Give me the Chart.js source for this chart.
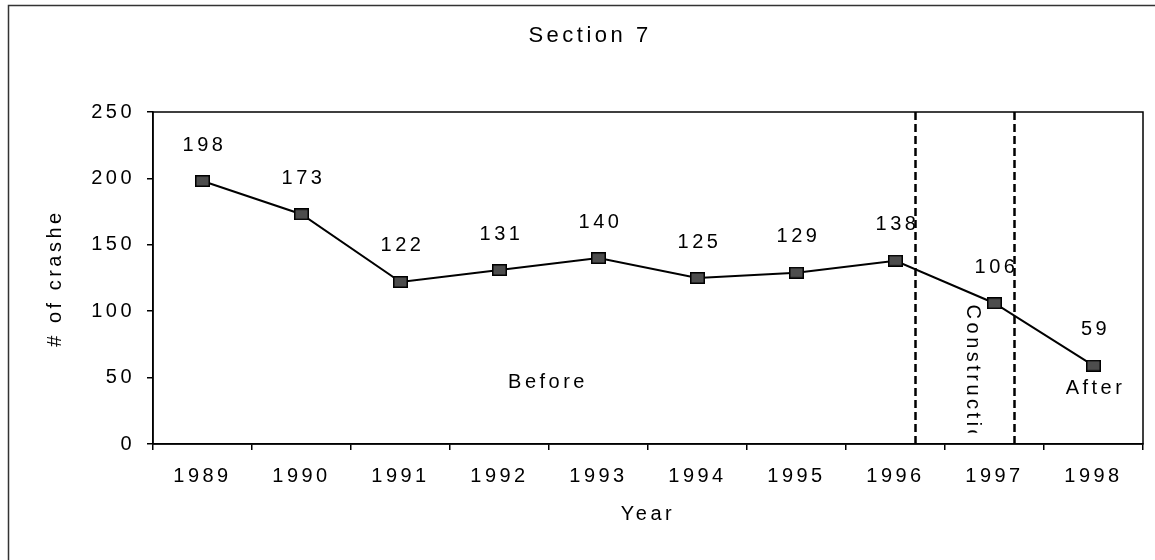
<!DOCTYPE html>
<html>
<head>
<meta charset="utf-8">
<script src="https://cdn.jsdelivr.net/npm/chart.js@4.4.1/dist/chart.umd.min.js"></script>
<style>
  html, body { margin: 0; padding: 0; background: #fff; }
  canvas { display: block; }
</style>
</head>
<body>
<canvas id="crashChart" width="1155" height="560"></canvas>
<script>
// Data
const years = ['1989', '1990', '1991', '1992', '1993', '1994', '1995', '1996', '1997', '1998'];
const crashes = [198, 173, 122, 131, 140, 125, 129, 138, 106, 59];
const yTicks = [0, 50, 100, 150, 200, 250];
// construction period, in category index units (start / end)
const constructionSpan = [7.2, 8.2];
const periodNames = ['Before', 'Construction', 'After'];

const FONT = "'Liberation Sans', Arial, sans-serif";
const SPACING = '3.5px';

// square marker, slightly wider than tall like the scan
const marker = document.createElement('canvas');
marker.width = 15;
marker.height = 12;
const mctx = marker.getContext('2d');
mctx.fillStyle = '#4d4d4d';
mctx.fillRect(0, 0, 15, 12);
mctx.strokeStyle = '#000';
mctx.lineWidth = 1.5;
mctx.strokeRect(0.75, 0.75, 13.5, 10.5);

// helper: pixel for a fractional category index
function xAt(scale, idx) {
  const i = Math.floor(idx);
  const a = scale.getPixelForValue(i);
  const b = scale.getPixelForValue(i + 1);
  return a + (idx - i) * (b - a);
}

const spacingPlugin = {
  id: 'spacing',
  beforeUpdate(chart) { chart.ctx.letterSpacing = SPACING; },
  beforeDraw(chart) { chart.ctx.letterSpacing = SPACING; }
};

const decorPlugin = {
  id: 'decor',
  beforeDatasetsDraw(chart) {
    const { ctx, chartArea: a } = chart;
    const x = chart.scales.x;
    ctx.save();
    // outer frame (left and top edges visible in the scan)
    ctx.strokeStyle = '#333';
    ctx.lineWidth = 1.5;
    ctx.beginPath();
    ctx.moveTo(8.5, 560);
    ctx.lineTo(8.5, 5.5);
    ctx.lineTo(1155, 5.5);
    ctx.stroke();

    // plot box
    ctx.strokeStyle = '#000';
    ctx.lineWidth = 1.5;
    ctx.strokeRect(a.left, a.top, a.right - a.left, a.bottom - a.top);

    // construction dividers
    ctx.lineWidth = 2.5;
    ctx.setLineDash([8, 4]);
    constructionSpan.forEach(v => {
      const px = Math.round(xAt(x, v)) + 0.5;
      ctx.beginPath();
      ctx.moveTo(px, a.top);
      ctx.lineTo(px, a.bottom);
      ctx.stroke();
    });
    ctx.restore();

    // title
    ctx.save();
    ctx.letterSpacing = SPACING;
    ctx.fillStyle = '#000';
    ctx.font = '22px ' + FONT;
    ctx.textAlign = 'center';
    ctx.textBaseline = 'middle';
    ctx.fillText('Section 7', 590, 36);
    ctx.restore();
  },
  afterDatasetsDraw(chart) {
    const { ctx, chartArea: a } = chart;
    const x = chart.scales.x;
    const y = chart.scales.y;
    const meta = chart.getDatasetMeta(0);
    ctx.save();
    ctx.letterSpacing = SPACING;
    ctx.fillStyle = '#000';
    ctx.font = '20px ' + FONT;
    ctx.textAlign = 'center';
    ctx.textBaseline = 'middle';

    // value labels above the points
    meta.data.forEach((pt, i) => {
      ctx.fillText(String(crashes[i]), pt.x + 2, pt.y - 36);
    });

    // period labels
    ctx.fillText(periodNames[0], xAt(x, 3.47) + 2, y.getPixelForValue(46));
    ctx.fillText(periodNames[2], xAt(x, 9.0) + 2, y.getPixelForValue(42));

    // vertical label, clipped like the small text box in the original
    ctx.save();
    ctx.beginPath();
    ctx.rect(a.left, a.top, a.right - a.left, y.getPixelForValue(8.5) - a.top);
    ctx.clip();
    ctx.translate(xAt(x, 7.78), y.getPixelForValue(105));
    ctx.rotate(Math.PI / 2);
    ctx.textAlign = 'left';
    ctx.fillText(periodNames[1], 0, 0);
    ctx.restore();

    ctx.restore();
  }
};

Chart.defaults.font.family = FONT;
Chart.defaults.font.size = 20;
Chart.defaults.color = '#000';

new Chart(document.getElementById('crashChart'), {
  type: 'line',
  data: {
    labels: years,
    datasets: [{
      label: '# of crashes',
      data: crashes,
      borderColor: '#000',
      borderWidth: 2,
      pointStyle: marker,
      pointRadius: 7,
      pointHoverRadius: 7,
      tension: 0,
      fill: false
    }]
  },
  options: {
    responsive: false,
    animation: false,
    events: [],
    layout: { padding: { left: 10, right: 12, top: 112, bottom: 10 } },
    plugins: {
      legend: { display: false },
      title: { display: false },
      tooltip: { enabled: false }
    },
    scales: {
      x: {
        offset: true,
        afterFit: s => { s.height = 106; },
        grid: { display: true, drawOnChartArea: false, offset: true, color: '#000', tickLength: 6, lineWidth: 1.5 },
        border: { display: true, color: '#000', width: 1.5 },
        ticks: { padding: 14, maxRotation: 0, autoSkip: false, font: { size: 20 } },
        title: { display: true, text: 'Year', font: { size: 20 }, padding: { top: 0, bottom: 24 } }
      },
      y: {
        min: yTicks[0],
        max: yTicks[yTicks.length - 1],
        afterFit: s => { s.width = 143; },
        afterBuildTicks: s => { s.ticks = yTicks.map(v => ({ value: v })); },
        grid: { display: true, drawOnChartArea: false, color: '#000', tickLength: 6, lineWidth: 1.5 },
        border: { display: true, color: '#000', width: 1.5 },
        ticks: { padding: 12, font: { size: 20 } },
        title: { display: true, text: '# of crashe', font: { size: 20 }, padding: { top: 33, bottom: 0 } }
      }
    }
  },
  plugins: [spacingPlugin, decorPlugin]
});
</script>
</body>
</html>
